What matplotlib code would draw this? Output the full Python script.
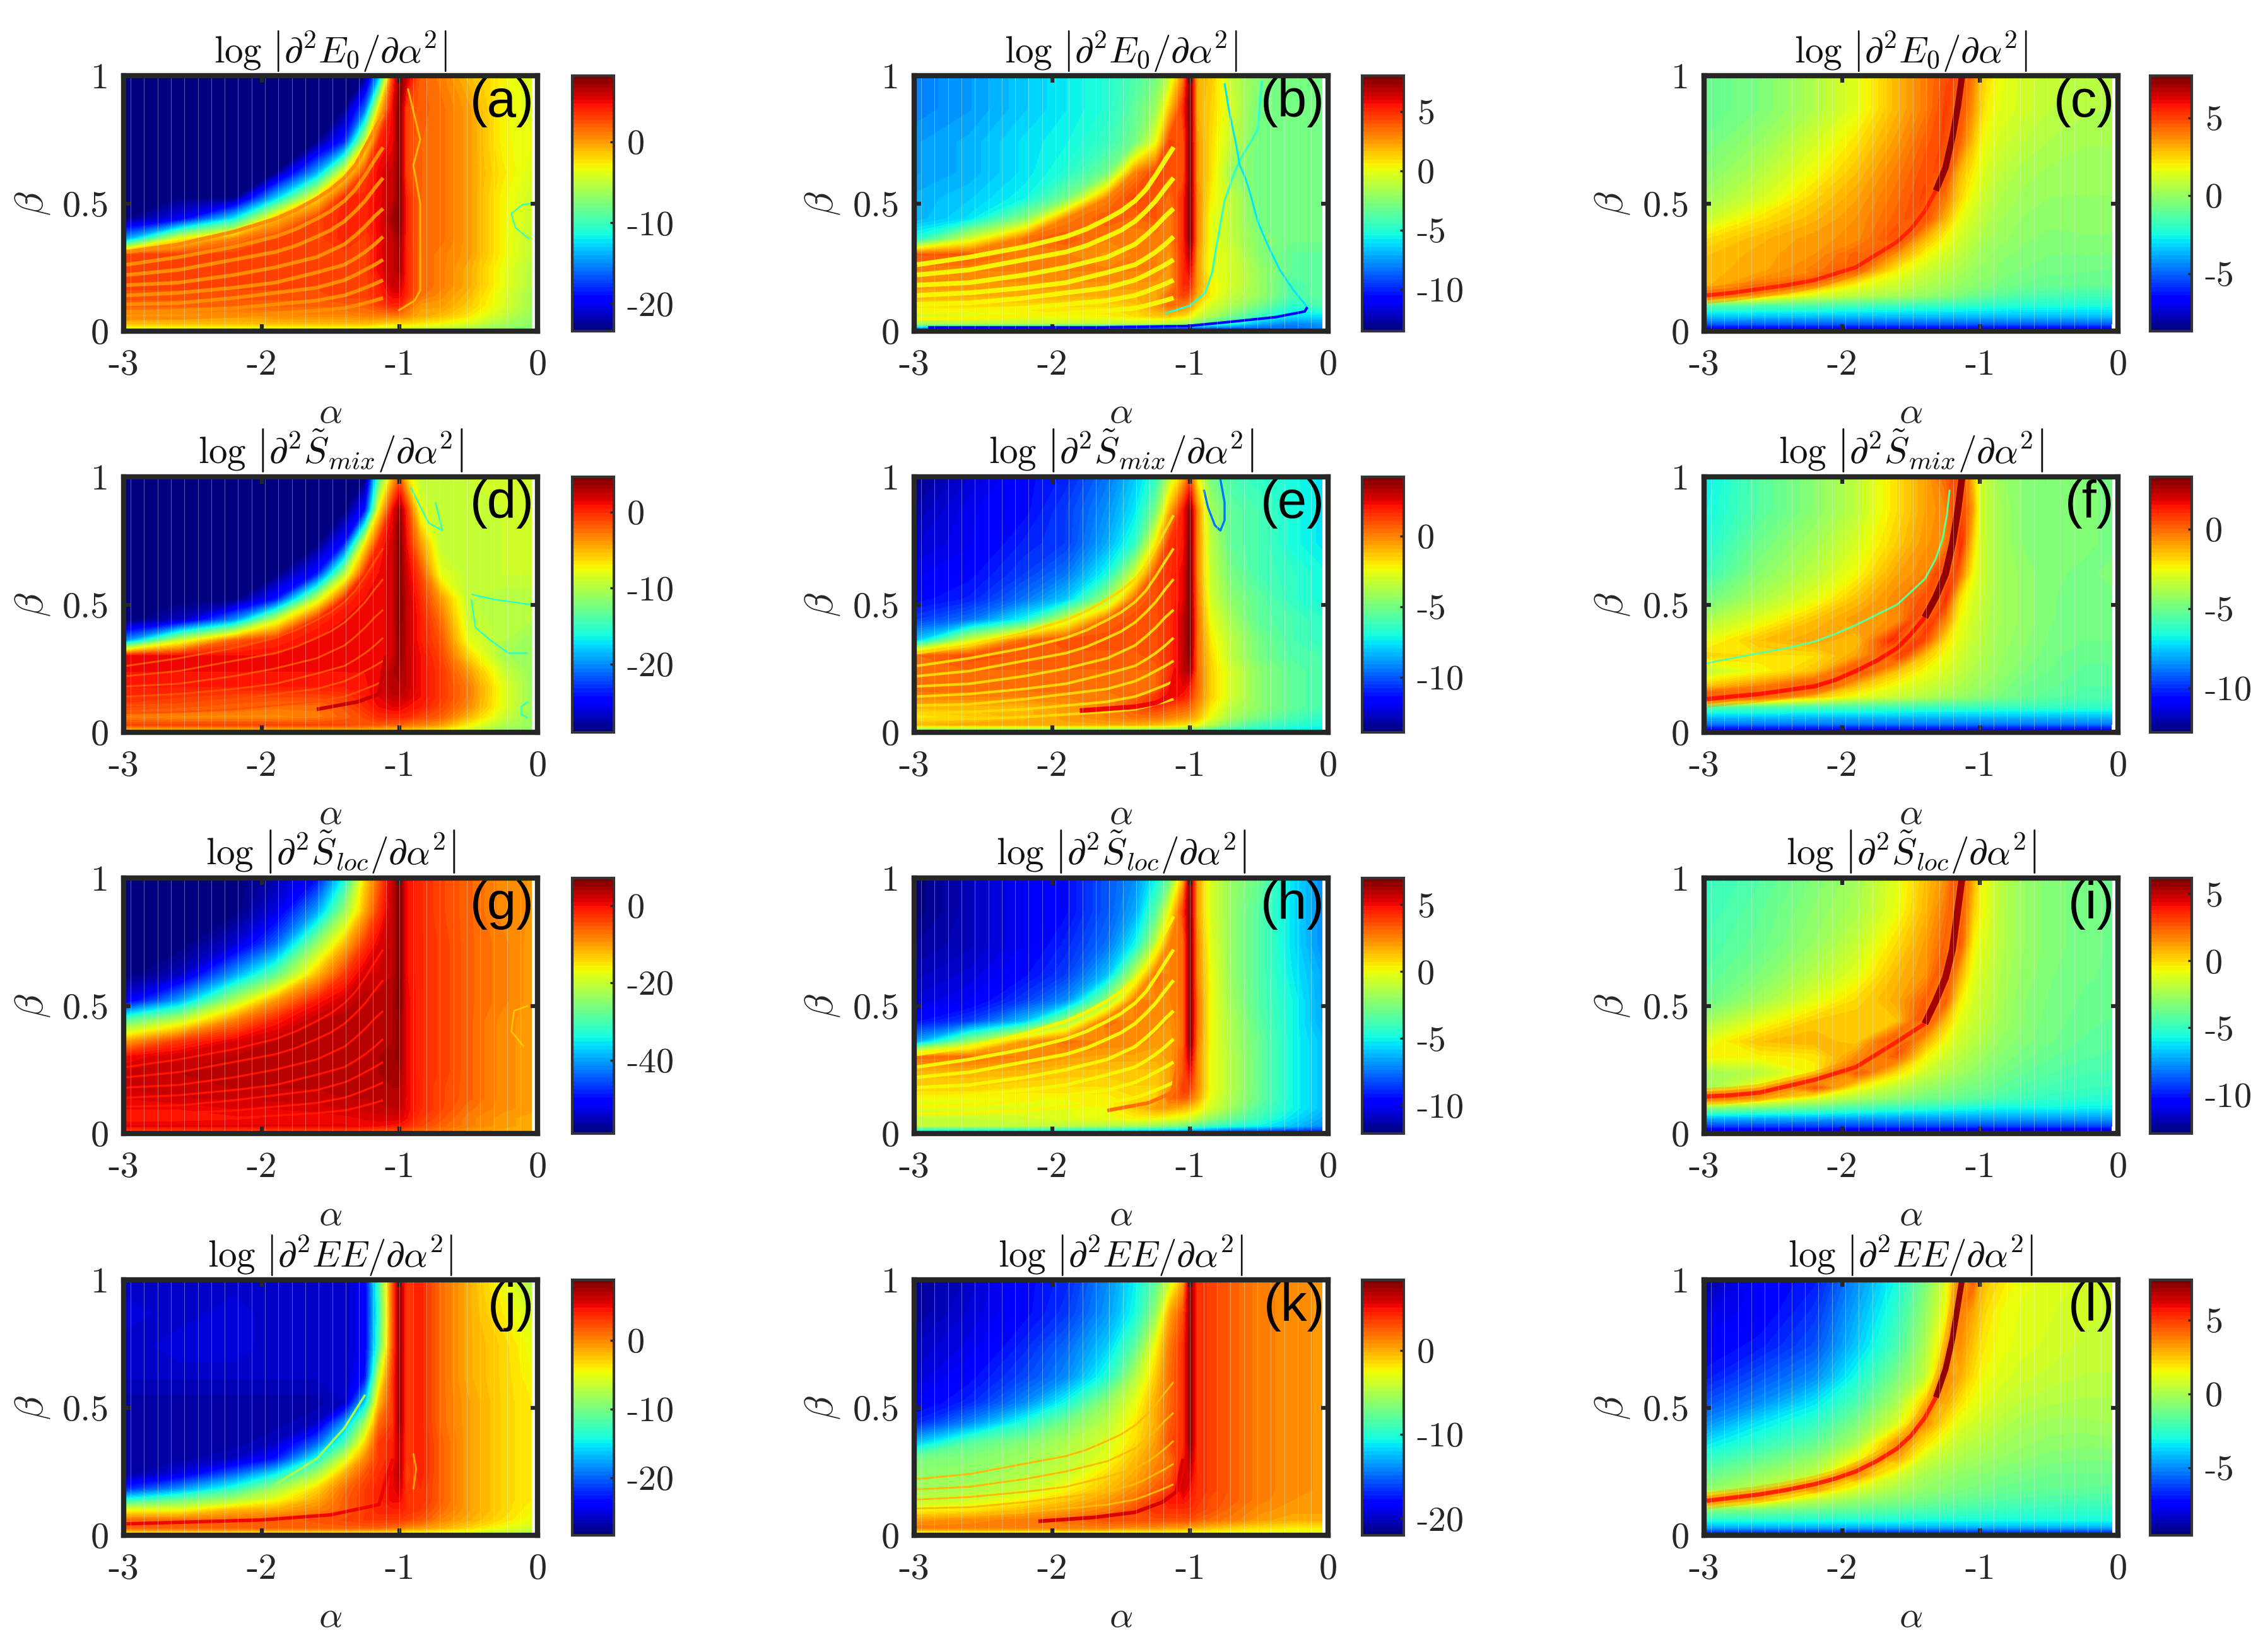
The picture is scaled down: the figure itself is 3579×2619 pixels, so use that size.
import matplotlib

matplotlib.use("Agg")
import matplotlib.pyplot as plt
import numpy as np
from matplotlib.cm import ScalarMappable
from matplotlib.colors import Normalize

plt.rcParams["font.family"] = ["cmr10", "DejaVu Sans"]
plt.rcParams["mathtext.fontset"] = "cm"
plt.rcParams["axes.unicode_minus"] = False
plt.rcParams["axes.linewidth"] = 2.0
plt.rcParams["axes.edgecolor"] = "#262626"

W = 3579
H = 2619

# grid, denser near the alpha = -1 ridge
ALPHA = [-2.985, -2.6, -2.2, -1.9, -1.6, -1.4, -1.25, -1.15, -1.05, -1, -0.95, -0.85, -0.7, -0.5, -0.25, -0.045]
BETA = [1.0, 0.87, 0.74, 0.62, 0.52, 0.44, 0.36, 0.30, 0.24, 0.18, 0.14, 0.10, 0.06, 0.03, 0.008]

Z_A = [
    [-23, -23, -23, -23, -23, -23, -23, -14, 3, 8, 6, 2, 1, -1, -3, -4],
    [-23, -23, -23, -23, -23, -23, -16, -2, 5, 8, 3, 2, 1.5, 0, -3, -4],
    [-23, -23, -23, -23, -23, -18, -4, 4, 5, 8, 3, 1.8, 1.5, 0, -3, -3.5],
    [-23, -23, -23, -23, -14, -3, 3, 5, 6, 8, 3, 1.8, 1.5, 0, -2.5, -4],
    [-23, -23, -23, -13, -2, 4, 4, 5, 6, 8, 4, 1.8, 1.5, 0, -3, -4.5],
    [-23, -20, -12, -1, 3, 4, 4, 5, 7, 8, 4, 1.8, 1.5, 0, -3, -4.5],
    [-14, -3, 1, 3, 3, 4, 3, 5, 6, 7.5, 4, 1.8, 1.5, 0, -3, -5],
    [3, 3, 3, 3, 3, 3, 3, 5, 6, 7, 4, 1.8, 1, 0, -3, -5],
    [3, 3, 3, 3, 3, 3, 3, 5, 6, 7, 4, 1.8, 1, -0.5, -3.5, -5.5],
    [3, 3, 3, 3, 3, 3, 3, 4, 6, 6, 4, 1.8, 1, -0.5, -3.5, -5.5],
    [2.5, 2.5, 2.5, 2.5, 2.5, 3, 3, 4, 5, 5, 4, 1.5, 0.5, -1, -4, -6],
    [2, 2, 2, 2, 2, 2, 2, 3, 4, 4, 2, 0, 0, -1.5, -4, -6],
    [0, 0, 0, 0.5, 0.5, 0.5, 1, 1, 1, 1, 0.5, -0.5, -1, -2.5, -5, -6.5],
    [-1, -1, -1, -1, -1, -1, -1, -1.5, -2, -2, -2, -2.5, -3, -4, -6, -7],
    [-4, -4, -4, -4, -4, -4, -4, -5, -5, -5, -5, -5, -5.5, -6, -7, -7.5],
]
Z_B = [
    [-8, -7.5, -6.5, -5.8, -5, -4, -3, -1, 3, 8, 2, 1.5, -1, -2.5, -3, -3],
    [-8, -7.5, -6.5, -5.8, -5, -3.5, -2, 1.5, 5, 8, 2, 1.2, -0.5, -3, -3, -3],
    [-7.5, -7, -6, -5.5, -4.5, -3, 0, 4.5, 4, 8, 2.5, 1, -1, -3, -3, -3],
    [-7.5, -7, -6, -5, -3, 3, 4.5, 4, 4, 8, 2.5, 1, -2, -3, -3, -3],
    [-7, -6.5, -5.5, -3, 3, 4.5, 4, 3.5, 5, 8, 3, 0.5, -1, -3, -3, -3],
    [-7, -6, -2.5, 3, 4, 3.5, 4, 3, 5, 8, 3, 0, -1, -3, -3, -3],
    [-5, -0.5, 3.5, 4, 3, 3, 3, 3, 5, 8, 3, 0, -1, -2.5, -3, -3],
    [4, 4, 3, 3, 2.5, 3, 3, 2.5, 5, 7, 2.5, 0, -0.5, -2.5, -3.5, -3.5],
    [3, 3, 3, 3, 3, 3, 3, 2.5, 5, 6, 2.5, 0, -0.5, -2, -3.5, -3.5],
    [2.5, 2.5, 2.5, 2.5, 2.5, 2.5, 2.5, 2.5, 5, 5, 2.5, 0.5, -0.5, -2, -4, -3.5],
    [2, 2, 2, 2, 2, 2, 2, 3.5, 4.5, 4, 2, 0.5, -1, -2, -4, -3.5],
    [1, 1, 1, 1, 1, 1.5, 2.5, 3.5, 3, 2.5, 1, -0.5, -1.5, -3, -5, -4],
    [-1, -0.5, 0, 0.5, 0.5, 1, 1.5, 1.5, 1, 0.5, -0.5, -1.5, -3, -4.5, -6, -6],
    [-1.5, -1, -1, -1, -1, -1, -1, -1.5, -2, -2, -3, -4, -5, -7, -8, -7.5],
    [-9, -9.5, -10, -10.5, -10.5, -10.5, -10.5, -10.5, -10.5, -10.5, -10, -10, -9.5, -9, -8.5, -8],
]
Z_C = [
    [-1, -0.5, 0.5, 1.5, 3, 4, 4.8, 5, 4, 2.8, 2.3, 1.7, 1.2, 0.9, 0.7, 0.6],
    [-1, -0.5, 0.5, 1.5, 3, 4, 5, 5, 3.5, 2.6, 2, 1.5, 1.2, 0.8, 0.6, 0.5],
    [-0.7, 0, 1.2, 2.2, 3.5, 4.5, 5, 4.5, 2.8, 2, 1.6, 1.2, 0.8, 0.5, 0.3, 0.3],
    [-0.3, 0.6, 1.8, 2.8, 4, 4.8, 5, 3, 2, 1.6, 1.2, 0.8, 0.4, 0.2, 0.1, 0.1],
    [0.2, 1.2, 2.5, 3.3, 4.3, 5, 4, 2.5, 1.5, 1.2, 0.9, 0.5, 0.2, 0, 0, 0],
    [1, 2.2, 3, 3.6, 4.5, 5, 3, 1.7, 1.1, 0.9, 0.6, 0.3, 0, -0.2, -0.1, -0.1],
    [2.3, 3, 3.5, 3.7, 5, 3, 1.8, 1.2, 0.7, 0.5, 0.3, 0.1, -0.2, -0.3, -0.3, -0.3],
    [2.8, 3.2, 3.6, 4.5, 3.5, 1.9, 1.2, 0.8, 0.4, 0.2, 0.1, -0.2, -0.3, -0.5, -0.5, -0.5],
    [3, 3.2, 4, 4.5, 2, 1.1, 0.7, 0.4, 0.1, -0.1, -0.1, -0.3, -0.5, -0.7, -0.7, -0.8],
    [3, 4, 3.5, 1.8, 1, 0.5, 0.2, 0, -0.2, -0.3, -0.3, -0.6, -0.8, -0.9, -1, -1],
    [3.5, 2.8, 1.3, 0.7, 0.3, 0, -0.3, -0.5, -0.8, -0.9, -1, -1.2, -1.4, -1.6, -1.7, -1.7],
    [-1.2, -1.4, -1.5, -1.7, -1.8, -1.9, -2, -2, -2.1, -2.1, -2.2, -2.2, -2.3, -2.3, -2.4, -2.4],
    [-3.3, -3.4, -3.4, -3.5, -3.5, -3.5, -3.5, -3.5, -3.5, -3.5, -3.5, -3.5, -3.5, -3.5, -3.5, -3.5],
    [-5, -5, -5, -5, -5, -5, -5, -5, -5, -5, -5, -5, -5, -5, -5, -5],
    [-6.8, -6.8, -6.8, -6.8, -6.8, -6.8, -6.8, -6.8, -6.8, -6.8, -6.8, -6.8, -6.8, -6.8, -6.8, -6.8],
]
Z_D = [
    [-29, -29, -29, -29, -29, -29, -29, -14, -5, -2, -6, -9.5, -9.5, -9, -8.5, -9],
    [-29, -29, -29, -29, -29, -29, -24, -7, 1, 4, 0, -8, -9.5, -9.5, -9, -9],
    [-29, -29, -29, -29, -29, -24, -7, 0, 2, 4.5, 1, -4, -9.5, -9.5, -9, -9],
    [-29, -29, -29, -29, -24, -10, 0, 1, 2, 4.5, 2, -1, -8, -9.5, -9, -9],
    [-29, -29, -29, -24, -9, 0, 1, 1, 2, 4.5, 2.5, 0, -4, -9.5, -10, -10],
    [-29, -27, -20, -9, 0, 1, 1, 1, 2, 4.5, 2.5, 0.5, -2.5, -9, -10, -10],
    [-20, -9, -2, 0, 1, 1, 1, 1, 2, 4, 2.5, 0.5, -1.5, -8, -10, -11],
    [1, 1, 1, 1, 1, 1, 1, 1, 2, 4, 2.5, 1, -1, -6, -10.5, -11],
    [1, 1, 1, 1, 1, 1, 1, 1.2, 3, 3.5, 2.5, 1, -0.5, -4, -9, -11],
    [0.5, 0.5, 0.5, 0.5, 0.5, 0.5, 0.8, 1.5, 3, 3, 2.5, 1, -0.5, -3, -8, -11],
    [0, -0.5, -1, -1, -1, -0.5, 0.5, 1.5, 2.5, 2.5, 2, 1, -0.5, -3, -8, -11],
    [-1, -1.5, -2, -2.5, -2.5, -1.5, 0, 1, 1.5, 1.5, 1, 0.5, -1, -3.5, -8, -11],
    [-3, -3.5, -3.5, -3.5, -3, -2, -1, 0, 0, 0, 0, -1, -2, -5, -9, -11],
    [-1, -1, -1, -1, -1, -1, -1.5, -1.5, -2, -2, -2.5, -3, -4, -7, -10, -11],
    [-5, -5, -5, -5, -5, -5, -5, -6, -6, -6, -6, -6.5, -7, -9, -11, -11.5],
]
Z_E = [
    [-13.5, -12.5, -11.5, -11, -9.5, -8, -6.5, -3.5, -1, 1, -2, -5, -6, -6.5, -7, -7.5],
    [-13, -12, -11.5, -10.5, -9, -7.5, -5, -1, 2, 4, 0, -4, -5.5, -6, -7, -7.5],
    [-12.5, -12, -11, -10.5, -8.5, -6.5, -2, 1.5, 2, 4.2, 0, -3.5, -5.5, -6, -7, -7.5],
    [-12, -11.5, -10.5, -9.5, -7, -3, 1, 1.5, 2.5, 4.2, 0, -3.3, -5, -6, -6.5, -7],
    [-11.5, -11, -9.5, -8, -4, 0.5, 1, 1.5, 2.5, 4.2, 0.3, -3, -4.5, -5.5, -6.5, -7],
    [-10.5, -9.5, -7, -3, 0.5, 1, 1, 1.5, 3, 4.2, 0.5, -2.5, -4, -5.5, -6, -6.5],
    [-8, -3, 0.5, 1, 1, 1, 1, 1.5, 3, 4.2, 0.5, -2, -3.5, -5, -6, -6.5],
    [0.5, 1, 0.7, 0.7, 0.7, 0.7, 1, 1.5, 3, 4, 0.5, -1.7, -3.5, -5, -5.8, -6],
    [0.5, 0.5, 0.5, 0.5, 0.5, 0.5, 0.5, 1.5, 3, 3.5, 0.5, -1.5, -3, -4.5, -5.5, -6],
    [0.5, 0.5, 0.5, 0.5, 0.5, 0.5, 0.5, 2, 2.5, 2, 0.5, -1.5, -3, -4.5, -5.5, -6],
    [0, 0, 0, 0, 0, 0.5, 1.5, 2.5, 2, 1.5, 0.3, -1.5, -3, -4.5, -5.5, -6],
    [-1, -1, -1, -0.5, 0, 1, 1.5, 1, 0.8, 0.5, -0.3, -2, -3.5, -4.5, -5.5, -6],
    [-2, -1.5, -1, -0.5, 0, 0.3, 0.3, 0, -0.3, -0.5, -1, -2.5, -4, -5, -6, -6.5],
    [-1, -0.7, -0.7, -0.7, -0.7, -0.8, -1, -1.3, -1.7, -2, -2.3, -3.5, -5, -6, -6.5, -7],
    [-5, -5, -5, -5, -5, -5, -5, -5, -5.5, -5.5, -5.5, -6, -6.5, -7, -7.5, -7.5],
]
Z_F = [
    [-7, -5.5, -4.5, -3.5, -2, -1, 0, 1, -1.5, -3, -3.5, -4.2, -4.5, -4.7, -4.7, -4.8],
    [-6.8, -5.5, -4.5, -3.5, -2, -1, -0.5, 1.5, -1, -3, -3.5, -4, -4.5, -4.7, -4.7, -4.8],
    [-6.5, -5, -4, -3, -1.7, -0.8, -0.5, 1.5, -1.8, -3, -3.5, -4, -4.5, -4.7, -4.7, -4.8],
    [-6, -4.5, -3.5, -2.5, -1, -0.5, 1.5, 0, -2.5, -3, -3.5, -4, -4.3, -4.7, -4.8, -4.7],
    [-5, -3.8, -2.7, -1.5, -0.5, 0.5, 1, -2, -3, -3.2, -3.6, -4, -4.3, -4.7, -5, -4.8],
    [-3.8, -2.8, -1.5, -0.8, -0.7, 1.5, -0.5, -2.5, -3.2, -3.4, -3.7, -4, -4.3, -4.7, -5, -5],
    [-2.7, -1.5, -1, -1.5, 1.5, 0.5, -2, -2.8, -3.4, -3.5, -3.8, -4.1, -4.4, -4.8, -5, -5],
    [-1.8, -2, -2, -1, 1, -1.5, -2.6, -3.1, -3.6, -3.7, -3.9, -4.2, -4.5, -4.9, -5.2, -5.2],
    [-3.5, -2.5, -1.5, 1, -1.5, -2.5, -3, -3.4, -3.8, -3.9, -4, -4.3, -4.7, -5, -5.3, -5.3],
    [-1.5, -0.5, 1, -1.5, -2.7, -3.2, -3.6, -3.8, -4.1, -4.2, -4.3, -4.6, -5, -5.2, -5.5, -5.5],
    [1, 0.5, -1.5, -2.7, -3.3, -3.7, -4, -4.2, -4.4, -4.5, -4.6, -4.8, -5.1, -5.4, -5.6, -5.7],
    [-5.5, -5.6, -5.7, -5.8, -5.9, -6, -6, -6, -6, -6.1, -6.1, -6.1, -6.1, -6.1, -6.2, -6.2],
    [-7.7, -7.7, -7.8, -7.8, -7.8, -7.8, -7.8, -7.8, -7.8, -7.8, -7.8, -7.8, -7.8, -7.8, -7.8, -7.8],
    [-9, -9, -9, -9, -9, -9, -9, -9, -9, -9, -9, -9, -9, -9, -9, -9],
    [-11, -11, -11, -11, -11, -11, -11, -11, -11, -11, -11, -11, -11, -11, -11, -11],
]
Z_G = [
    [-59, -59, -59, -56, -50, -34, -14, -6, 3, 7, 0, -2, -4, -6, -9, -9.5],
    [-59, -59, -59, -53, -40, -24, -11, -3, 3, 7, 0, -2, -4, -6, -9, -9.5],
    [-59, -59, -54, -44, -24, -12, -3, 1, 3, 7, 0, -2, -3.5, -6, -8, -10],
    [-59, -55, -40, -28, -12, -3, 2, 2, 3, 7, 0, -2, -3.5, -6, -8, -10],
    [-52, -40, -22, -10, -1, 2, 3.5, 3.5, 4, 7, 0.5, -2, -3.5, -6, -8, -10],
    [-28, -20, -8, -1, 3, 3.5, 3.5, 3.5, 4, 6, 0.5, -2, -3.5, -6, -9, -10],
    [-10, -3, 1, 3, 3.5, 3.5, 3.5, 3.5, 4, 6, 0.5, -2, -3.5, -6, -9, -10],
    [0, 2, 3, 3.5, 3.5, 3.5, 4, 4, 4.5, 6, 0.5, -2, -3.5, -6, -9, -10],
    [2, 3, 3, 3, 3.5, 3.5, 4, 4, 4.5, 5, 0.5, -2, -3.5, -6, -9, -10],
    [2, 2.5, 3, 3, 3, 3, 3.5, 4, 4, 4, 0.5, -2, -4, -6, -9, -10],
    [1, 2, 2, 2.5, 2.5, 3, 3, 3.5, 4, 4, 0.5, -2, -4, -6, -9, -10],
    [0, 0, 1, 1, 1.5, 2, 2.5, 2.5, 3, 3, 0.5, -2, -4, -7, -9, -10],
    [-1, -1, -0.5, 0, 0, 0.5, 1, 1.5, 1.5, 1.5, 0, -3, -5, -8, -10, -11],
    [1, 1, 1, 1, 1, 1, 0.5, 0, -0.5, -1, -2, -4, -6, -8, -10, -11],
    [-4, -4, -4, -5, -5, -5, -5, -6, -6, -6, -6, -7, -8, -10, -11, -11],
]
Z_H = [
    [-12, -11, -10, -9.5, -8, -7, -5, -3, 1.5, 7, 2, -0.5, -2, -3, -5.5, -7],
    [-12, -11, -10, -9.5, -8, -6.5, -3.5, 0, 4, 7, 2, -0.5, -2, -3.5, -5.5, -7],
    [-11.5, -11, -10, -9, -7.5, -5, -1, 2.5, 3, 7, 2.5, -0.3, -2, -3.5, -5.5, -7],
    [-11, -10.5, -9.5, -8.5, -6, -1, 3, 2.5, 3, 7, 2.5, 0, -2, -3.5, -5.3, -6.5],
    [-10.5, -10, -8.5, -7, -2, 2.8, 2.5, 2.5, 3, 7, 3, 0, -1.8, -3.5, -5, -6.5],
    [-9.5, -8.5, -6, -2, 3, 2.5, 2.5, 2.2, 3, 7, 3, 0, -1.5, -3.3, -5, -6.5],
    [-6.5, -2, 2, 3, 2.5, 2.5, 2, 2, 3, 7, 2.8, 0, -1.5, -3, -5, -6],
    [3, 3, 2.5, 2, 1.8, 1.8, 1.8, 2, 3.5, 6, 2.5, 0, -1.3, -3, -5, -6],
    [1.5, 1.5, 1.5, 1.2, 1.2, 1.2, 1.2, 1.8, 3.5, 5, 2.5, 0, -1.3, -3, -5, -6],
    [1, 1, 0.7, 0.7, 0.7, 1, 1, 2, 4, 4, 2.5, 0, -1.3, -3, -5, -6],
    [0.2, 0.2, 0.2, 0.2, 0.3, 0.7, 1, 3, 3.5, 3, 2, -0.2, -1.5, -3, -5, -6],
    [-0.3, -0.3, -0.3, -0.2, 0.2, 1.2, 2, 2, 1.5, 1.2, 0.7, -0.5, -1.8, -3.5, -5, -6],
    [-1, -0.8, -0.5, -0.2, 0, 0.3, 0.3, 0, -0.3, -0.5, -1, -2, -3, -4, -5.5, -6.5],
    [-1, -1, -1, -1.2, -1.5, -1.7, -2, -2.3, -2.7, -3, -3.5, -4, -4.5, -5, -6, -7],
    [-6, -6, -6, -6, -6, -6.5, -6.5, -7, -7, -7.5, -7.5, -8, -8.5, -8.5, -9, -9],
]
Z_I = [
    [-5, -4.3, -3.3, -2.5, -1, 0.5, 1.5, 3.5, 1, -0.5, -1, -2, -2.7, -3.2, -3.5, -3.7],
    [-4.8, -4, -3, -2.3, -0.8, 0.7, 2, 3.5, 0.3, -0.5, -1, -2, -2.7, -3.2, -3.5, -3.7],
    [-4.5, -3.8, -2.7, -1.7, 0, 1.2, 2.5, 3, -0.5, -1, -1.3, -2, -2.7, -3.2, -3.5, -3.7],
    [-4.2, -3.3, -2, -1, 0.7, 1.4, 3.5, 1, -1, -1.3, -1.6, -2.2, -2.8, -3.3, -3.6, -3.7],
    [-3.8, -2.5, -1, 0, 1, 2.5, 2.5, -0.3, -1.3, -1.6, -1.8, -2.3, -3, -3.4, -3.7, -3.8],
    [-2.5, -1, 0.3, 0.5, 0.5, 3.5, 0.5, -1, -1.6, -1.8, -2, -2.5, -3, -3.5, -3.8, -4],
    [-1, 0.5, 0.8, 0.3, 3.5, 1, -0.8, -1.5, -2, -2.2, -2.4, -2.8, -3.2, -3.6, -4, -4.2],
    [-0.5, -0.5, -0.3, 1.5, 2.5, -0.5, -1.5, -2, -2.4, -2.6, -2.8, -3.1, -3.5, -3.9, -4.2, -4.3],
    [-2.5, -2, -0.5, 3, 0, -1.5, -2.2, -2.5, -2.9, -3, -3.2, -3.5, -3.9, -4.2, -4.5, -4.6],
    [-2.5, -0.5, 3, -0.5, -2, -2.7, -3.1, -3.3, -3.5, -3.6, -3.7, -4, -4.3, -4.6, -4.8, -4.9],
    [2.5, 1, -1, -2.2, -3, -3.5, -3.7, -3.9, -4.1, -4.1, -4.2, -4.5, -4.7, -5, -5.2, -5.3],
    [-3, -3.5, -4, -4.6, -5, -5.2, -5.4, -5.5, -5.6, -5.7, -5.7, -5.8, -5.8, -5.8, -5.9, -5.9],
    [-7, -7.2, -7.3, -7.4, -7.5, -7.5, -7.5, -7.5, -7.5, -7.5, -7.5, -7.5, -7.5, -7.5, -7.5, -7.5],
    [-9.2, -9.2, -9.2, -9.2, -9.2, -9.2, -9.2, -9.2, -9.2, -9.2, -9.2, -9.2, -9.2, -9.2, -9.2, -9.2],
    [-11.3, -11.3, -11.3, -11.3, -11.3, -11.3, -11.3, -11.3, -11.3, -11.3, -11.3, -11.3, -11.3, -11.3, -11.3, -11.3],
]
Z_J = [
    [-26, -26, -26, -26, -26, -26, -24, -12, 2, 8, 3, 4, 1, -1.5, -5, -8],
    [-25, -26, -25, -26, -26, -26, -24, -13, 2, 8, 3, 4, 1, -1.5, -4, -6],
    [-26, -25, -25, -26, -26, -26, -24, -12, 2, 8, 3, 4, 1, -1.5, -3, -5],
    [-26, -26, -26, -26, -26, -26, -23, -6, 3, 8, 3, 4, 1, -1.5, -3, -4.5],
    [-27, -27, -27, -27, -27, -26, -16, -2, 3, 8, 3, 4, 1, -1, -3, -4],
    [-27, -27, -27, -27, -26, -18, -8, 1, 3, 8, 3, 4, 1, -1, -3, -4],
    [-27, -27, -27, -26, -20, -12, -3, 3, 4, 7, 3, 4, 1.5, -1, -3, -4],
    [-27, -27, -26, -23, -14, -6, 0, 3, 4, 7, 3, 4, 1.5, -1, -3, -4],
    [-27, -25, -20, -15, -8, -1.5, 2, 3.5, 5, 7, 2.5, 4, 1.5, -1, -3, -4],
    [-22, -18, -13, -8, -3, 1, 3, 4, 5, 6, 3, 3.5, 1.5, -1, -3, -4],
    [-14, -11, -8, -5, -1.5, 1.5, 3, 4, 5, 5, 3.5, 3.5, 1.5, -1, -3, -4],
    [-5, -5, -2, -1.5, 0, 1.5, 3, 4, 4, 4, 3.5, 3, 1, -1, -3, -4.5],
    [1, 1, 1, 1.5, 2, 2.5, 3, 3, 3, 3, 2.5, 2, 0, -1.5, -3.5, -5],
    [1.5, 1.5, 1.5, 1.5, 1.5, 1.5, 1.5, 1.5, 1, 1, 0, -0.5, -1.5, -3, -5, -6],
    [-4, -4, -4, -4, -4, -4, -4, -4, -4.5, -4.5, -5, -5, -5.5, -6, -7, -8],
]
Z_K = [
    [-21, -20, -18, -17, -14, -11, -8, -4, 0, 8, 4, 3.5, 2.5, 1.5, 1, 0.7],
    [-21, -19.5, -18, -16.5, -13.5, -10.5, -6, 0, 3, 8, 4, 3.5, 2.5, 1.5, 1, 0.7],
    [-20, -19, -17, -15, -12, -8, -2.5, 1.5, 4, 8, 4, 3.5, 2.5, 1.5, 1, 0.7],
    [-19.5, -18, -16, -14, -10, -5, -1, 2, 4, 8, 4, 3.5, 2.5, 1.5, 1, 0.7],
    [-18.5, -17, -14, -10.5, -6, -3, 0, 2, 4, 8, 4, 3.5, 2.5, 1.5, 1, 0.7],
    [-17, -14, -10, -7, -4.5, -2, 0, 2.5, 4, 8, 4, 3.5, 2.5, 1.5, 1, 0.7],
    [-12, -8, -6.5, -5, -3.5, -1.5, 0.5, 3, 4, 8, 4, 3.5, 2.5, 1.5, 1, 0.7],
    [-7, -6.5, -5.5, -4.5, -3, -0.5, 1, 2, 4.5, 7, 4, 3.5, 2.5, 1.5, 1, 0.7],
    [-6, -6, -5, -4, -1.5, 0, 1.5, 2.5, 5.5, 6, 4, 3.5, 2.5, 1.5, 1, 0.7],
    [-5.5, -5, -4, -2.5, -0.5, 1, 2.5, 3.5, 6, 5, 4, 3.5, 2.5, 1.5, 1, 0.7],
    [-4.5, -4, -2.5, -1, 0.5, 2, 3.5, 5, 5, 4.5, 4, 3, 2.5, 1.5, 0.8, 0.5],
    [-2.5, -2, -0.5, 0.5, 1.5, 3, 4, 4, 4, 4, 3.5, 3, 2, 1, 0.5, 0.5],
    [0.5, 1, 1.5, 2, 3, 3, 3, 3, 3, 3, 2.5, 2, 1.5, 0.5, 0, 0],
    [1.5, 1.5, 1.5, 1.5, 1.5, 1, 1, 0.5, 0.5, 0, 0, -0.5, -1, -1.5, -2, -2],
    [-3, -3, -3, -3, -3, -3, -3, -3, -3, -3, -3, -3, -3, -3, -3, -3],
]
Z_L = [
    [-9, -7.5, -7, -5, -3, -1, 1, 4, 4.5, 3, 2.5, 2, 1.3, 1.2, 0.9, 0.8],
    [-8, -7.5, -6.5, -4.5, -2.5, -0.5, 1.5, 4, 3, 2.5, 2, 1.5, 1.2, 1, 0.8, 0.7],
    [-7.5, -7, -6, -4, -2, 0, 2.5, 3.5, 2.5, 2, 1.7, 1.4, 1.1, 0.9, 0.6, 0.6],
    [-7, -6, -5, -3, -1, 0.5, 3.5, 3, 2, 1.6, 1.4, 1.1, 0.8, 0.6, 0.4, 0.4],
    [-6, -5, -3.5, -2, 0, 2.5, 3, 2, 1.4, 1.2, 1, 0.7, 0.4, 0.2, 0.1, 0.1],
    [-5, -3.5, -2.5, -1, 1, 3.5, 2, 1.2, 0.9, 0.7, 0.6, 0.3, 0, -0.2, -0.2, -0.1],
    [-3.5, -2.5, -1.5, 0, 3.5, 2, 1, 0.5, 0.3, 0.2, 0.1, -0.1, -0.3, -0.5, -0.6, -0.5],
    [-2.5, -1.5, -0.5, 1.5, 3, 0.8, 0.3, 0.1, -0.1, -0.2, -0.3, -0.4, -0.6, -0.8, -0.9, -0.9],
    [-1.5, -0.5, 0.5, 3.5, 1, 0, -0.3, -0.5, -0.6, -0.7, -0.7, -0.9, -1, -1.2, -1.2, -1.2],
    [-0.5, 0.5, 3, 1, 0, -0.5, -0.7, -0.9, -1, -1.1, -1.1, -1.3, -1.4, -1.5, -1.5, -1.6],
    [3, 2.5, 0.5, -0.3, -0.8, -1.1, -1.3, -1.4, -1.5, -1.6, -1.6, -1.7, -1.8, -1.9, -2, -2],
    [-0.8, -1, -1.3, -1.5, -1.8, -1.9, -2, -2.1, -2.2, -2.2, -2.2, -2.3, -2.4, -2.4, -2.5, -2.5],
    [-2.8, -2.8, -2.9, -2.9, -2.9, -3, -3, -3, -3, -3, -3, -3, -3, -3, -3, -3],
    [-4.5, -4.5, -4.5, -4.5, -4.5, -4.5, -4.5, -4.5, -4.5, -4.5, -4.5, -4.5, -4.5, -4.5, -4.5, -4.5],
    [-7, -7, -7, -7, -7, -7, -7, -7, -7, -7, -7, -7, -7, -7, -7, -7],
]

# narrow bands that the grid above is too coarse for
STRIPE_ALPHA = [-2.98, -2.6, -2.2, -1.9, -1.75, -1.6, -1.5, -1.4, -1.32, -1.25, -1.18, -1.12]
STRIPES = [
    [0.31, 0.34, 0.39, 0.44, 0.475, 0.52, 0.555, 0.60, 0.65, 0.72, 0.79, 0.85],
    [0.26, 0.29, 0.33, 0.37, 0.40, 0.44, 0.47, 0.51, 0.555, 0.61, 0.67, 0.72],
    [0.22, 0.24, 0.28, 0.31, 0.335, 0.37, 0.395, 0.43, 0.47, 0.51, 0.56, 0.60],
    [0.18, 0.19, 0.22, 0.25, 0.27, 0.29, 0.315, 0.34, 0.375, 0.41, 0.45, 0.48],
    [0.14, 0.15, 0.17, 0.19, 0.21, 0.23, 0.245, 0.26, 0.285, 0.31, 0.34, 0.37],
    [0.105, 0.11, 0.13, 0.15, 0.16, 0.17, 0.185, 0.20, 0.22, 0.24, 0.26, 0.28],
    [0.075, 0.08, 0.09, 0.105, 0.112, 0.12, 0.13, 0.14, 0.155, 0.17, 0.185, 0.20],
    [0.05, 0.052, 0.06, 0.07, 0.075, 0.08, 0.085, 0.09, 0.10, 0.11, 0.12, 0.13],
]
# value drawn in the stripe, line width, which stripes
STRIPE_STYLE = {
    "a": (0.5, 1.4, [0, 1, 2, 3, 4, 5, 6, 7]),
    "b": (0.5, 1.8, [1, 2, 3, 4, 5, 6, 7]),
    "d": (-1.5, 0.7, [1, 2, 3, 4, 5, 6]),
    "e": (-1.5, 1.0, [0, 1, 2, 3, 4, 5, 6, 7]),
    "g": (-1.0, 0.8, [1, 2, 3, 4, 5, 6, 7]),
    "h": (0.3, 1.3, [0, 1, 2, 3, 4, 5, 6]),
    "k": (-0.5, 0.7, [2, 3, 4, 5, 6]),
}

# main curved ridge shared by the right hand column
RIDGE_ALPHA = [-2.98, -2.8, -2.6, -2.4, -2.2, -2.05, -1.9, -1.75, -1.6, -1.5, -1.4, -1.32, -1.25, -1.2, -1.16, -1.13]
# beta, split index, (low value, high value), (low width, high width), halo value
RIDGES = {
    "c": ([0.14, 0.15, 0.165, 0.18, 0.2, 0.225, 0.25, 0.3, 0.35, 0.4, 0.47, 0.55, 0.64, 0.76, 0.88, 1.0], 11, (5.6, 7.3), (1.5, 2.4), 4.5),
    "f": ([0.13, 0.14, 0.15, 0.165, 0.18, 0.205, 0.24, 0.28, 0.33, 0.385, 0.45, 0.53, 0.62, 0.74, 0.87, 1.0], 10, (1.3, 3.0), (1.6, 2.6), 0.0),
    "i": ([0.145, 0.15, 0.16, 0.185, 0.21, 0.235, 0.26, 0.31, 0.36, 0.395, 0.43, 0.52, 0.61, 0.72, 0.88, 1.0], 10, (3.8, 5.6), (1.6, 2.6), 1.8),
    "l": ([0.135, 0.147, 0.16, 0.178, 0.2, 0.222, 0.25, 0.29, 0.34, 0.39, 0.46, 0.54, 0.65, 0.77, 0.9, 1.0], 11, (5.5, 7.3), (1.6, 2.2), 3.6),
}

# (alpha, beta, value, width)
FEATURES = {
    "a": [
        ([-1.01, -0.89, -0.85, -0.85, -0.9, -0.85, -0.94], [0.08, 0.12, 0.16, 0.5, 0.65, 0.75, 0.95], -1, 0.7),
        ([-0.06, -0.16, -0.19, -0.11, -0.05], [0.36, 0.405, 0.46, 0.495, 0.5], -11, 0.5),
    ],
    "b": [
        ([-1.18, -1.0, -0.89, -0.84, -0.81, -0.75, -0.68, -0.64, -0.56, -0.51, -0.48], [0.07, 0.10, 0.15, 0.23, 0.33, 0.51, 0.62, 0.67, 0.74, 0.79, 0.98], -5, 0.7),
        ([-0.75, -0.72, -0.67, -0.64, -0.6, -0.57, -0.51, -0.44, -0.35, -0.25, -0.15], [0.97, 0.87, 0.74, 0.65, 0.6, 0.55, 0.43, 0.34, 0.24, 0.16, 0.094], -6, 0.7),
        ([-0.15, -0.17, -0.38, -0.7, -1.02, -1.66, -2.3, -2.9], [0.094, 0.077, 0.055, 0.037, 0.02, 0.015, 0.015, 0.015], -11, 1.0),
    ],
    "d": [
        ([-0.48, -0.31, -0.05], [0.54, 0.52, 0.5], -16, 0.5),
        ([-0.48, -0.45, -0.34, -0.21, -0.07], [0.52, 0.41, 0.36, 0.31, 0.31], -16, 0.5),
        ([-0.07, -0.12, -0.12, -0.07], [0.12, 0.1, 0.07, 0.057], -16, 0.5),
        ([-0.92, -0.79, -0.69, -0.74], [0.96, 0.82, 0.79, 0.9], -16, 0.5),
        ([-1.1, -1.15, -1.3, -1.6], [0.3, 0.15, 0.12, 0.09], 2.5, 1.4),
    ],
    "e": [
        ([-0.9, -0.87, -0.82, -0.78, -0.75, -0.75, -0.78], [0.95, 0.88, 0.81, 0.79, 0.83, 0.9, 0.99], -9.5, 0.8),
        ([-1.1, -1.15, -1.25, -1.4, -1.8], [0.25, 0.14, 0.115, 0.1, 0.085], 2.5, 1.8),
    ],
    "f": [
        ([-2.98, -2.8, -2.6, -2.4, -2.2, -2.05, -1.9, -1.75, -1.6, -1.5, -1.4, -1.32, -1.27, -1.24, -1.22], [0.27, 0.29, 0.31, 0.33, 0.355, 0.385, 0.42, 0.46, 0.5, 0.55, 0.6, 0.68, 0.76, 0.85, 0.95], -5.5, 0.7),
    ],
    "g": [
        ([-0.07, -0.17, -0.19, -0.1], [0.5, 0.48, 0.40, 0.34], -13, 0.6),
    ],
    "h": [
        ([-1.08, -1.13, -1.3, -1.6], [0.3, 0.16, 0.12, 0.09], 3, 1.4),
    ],
    "j": [
        ([-0.9, -0.88, -0.9], [0.18, 0.26, 0.32], -0.5, 0.7),
        ([-1.05, -1.15, -1.5, -2, -2.98], [0.3, 0.12, 0.08, 0.06, 0.045], 5, 1.3),
        ([-1.9, -1.6, -1.4, -1.25], [0.2, 0.3, 0.42, 0.55], -8, 0.8),
    ],
    "k": [
        ([-1.05, -1.1, -1.2, -1.4, -1.7, -2.1], [0.3, 0.17, 0.13, 0.09, 0.07, 0.055], 6, 1.4),
    ],
}

TITLES = {
    "E": r"$\log\,\left|\partial^2 E_0/\partial\alpha^2\right|$",
    "M": r"$\log\,\left|\partial^2 \tilde{S}_{mix}/\partial\alpha^2\right|$",
    "L": r"$\log\,\left|\partial^2 \tilde{S}_{loc}/\partial\alpha^2\right|$",
    "Q": r"$\log\,\left|\partial^2 EE/\partial\alpha^2\right|$",
}

# letter, row, col, title, grid, vmin, vmax, colorbar ticks
PANELS = [
    ("a", 0, 0, "E", Z_A, -23.4, 8.2, [0, -10, -20]),
    ("b", 0, 1, "E", Z_B, -13.5, 8.0, [5, 0, -5, -10]),
    ("c", 0, 2, "E", Z_C, -8.7, 7.7, [5, 0, -5]),
    ("d", 1, 0, "M", Z_D, -29.0, 4.66, [0, -10, -20]),
    ("e", 1, 1, "M", Z_E, -13.9, 4.2, [0, -5, -10]),
    ("f", 1, 2, "M", Z_F, -12.8, 3.3, [0, -5, -10]),
    ("g", 2, 0, "L", Z_G, -59.0, 7.1, [0, -20, -40]),
    ("h", 2, 1, "L", Z_H, -12.1, 7.0, [5, 0, -5, -10]),
    ("i", 2, 2, "L", Z_I, -12.9, 6.2, [5, 0, -5, -10]),
    ("j", 3, 0, "Q", Z_J, -28.4, 8.8, [0, -10, -20]),
    ("k", 3, 1, "Q", Z_K, -22.0, 8.4, [0, -10, -20]),
    ("l", 3, 2, "Q", Z_L, -9.6, 7.75, [5, 0, -5]),
]

AX_LEFT = [196, 1449, 2701]
CB_LEFT = [907, 2159, 3408]
AX_TOP = [120, 756, 1392, 2029]
AX_W = 656
AX_H = 405
CB_W = 66

cmap = plt.get_cmap("jet", 64)


def px_rect(left, top, width, height):
    return [left / W, 1 - (top + height) / H, width / W, height / H]


fig = plt.figure(figsize=(W / 300, H / 300), dpi=300, facecolor="white")

for letter, row, col, title, grid, vmin, vmax, cb_ticks in PANELS:
    ax = fig.add_axes(px_rect(AX_LEFT[col], AX_TOP[row], AX_W, AX_H))
    norm = Normalize(vmin, vmax)
    levels = np.linspace(vmin, vmax, 65)
    ax.contourf(ALPHA, BETA[::-1], np.array(grid)[::-1], levels=levels, cmap=cmap, norm=norm, extend="both")

    if letter in RIDGES:
        ridge_beta, split, vals, widths, halo = RIDGES[letter]
        ax.plot(RIDGE_ALPHA, ridge_beta, color=cmap(norm(halo)), lw=6.5, alpha=0.35, solid_capstyle="butt")
        ax.plot(RIDGE_ALPHA, ridge_beta, color=cmap(norm(halo)), lw=3.8, alpha=0.6, solid_capstyle="butt")
        ax.plot(RIDGE_ALPHA[: split + 1], ridge_beta[: split + 1], color=cmap(norm(vals[0])), lw=widths[0], solid_capstyle="butt")
        ax.plot(RIDGE_ALPHA[split:], ridge_beta[split:], color=cmap(norm(vals[1])), lw=widths[1], solid_capstyle="butt")
    if letter in STRIPE_STYLE:
        val, lw, which = STRIPE_STYLE[letter]
        for i in which:
            ax.plot(STRIPE_ALPHA, STRIPES[i], color=cmap(norm(val)), lw=lw, solid_capstyle="butt")
    for xs, ys, val, lw in FEATURES.get(letter, []):
        ax.plot(xs, ys, color=cmap(norm(val)), lw=lw, solid_capstyle="butt")

    # faint seams of the original render
    ax.vlines(np.arange(-2.95, -0.05, 0.0975), 0.008, 1, color="white", lw=0.25, alpha=0.35)

    ax.set_xlim(-3, 0)
    ax.set_ylim(0, 1)
    ax.set_xticks([-3, -2, -1, 0])
    ax.set_xticklabels(["-3", "-2", "-1", "0"])
    ax.set_yticks([0, 0.5, 1])
    ax.set_yticklabels(["0", "0.5", "1"])
    ax.tick_params(direction="in", length=2.6, width=1.5, top=True, right=True, labelsize=14, colors="#262626")
    ax.tick_params(axis="x", pad=7)
    ax.tick_params(axis="y", pad=5.5)

    ax.set_title(TITLES[title], fontsize=14.2, pad=5, color="#111111")
    ax.text(0.5, -130 / AX_H, r"$\alpha$", transform=ax.transAxes, ha="center", va="center", fontsize=14, color="#262626")
    ax.text(-145 / AX_W, 0.5, r"$\beta$", transform=ax.transAxes, ha="center", va="center", rotation=90, fontsize=15, color="#262626")
    ax.text(0.992, 0.99, f"({letter})", transform=ax.transAxes, ha="right", va="top", fontsize=20, color="black", family="Liberation Sans")

    cax = fig.add_axes(px_rect(CB_LEFT[col], AX_TOP[row], CB_W, AX_H))
    cb = fig.colorbar(ScalarMappable(norm=norm, cmap=cmap), cax=cax, ticks=cb_ticks)
    cb.ax.set_yticklabels([str(t) for t in cb_ticks])
    cb.ax.tick_params(direction="in", length=1.4, width=0.8, pad=5, labelsize=13.5, colors="#262626")
    cb.outline.set_linewidth(1.0)
    cb.outline.set_edgecolor("#333333")

fig.savefig("out.png", dpi=300)
